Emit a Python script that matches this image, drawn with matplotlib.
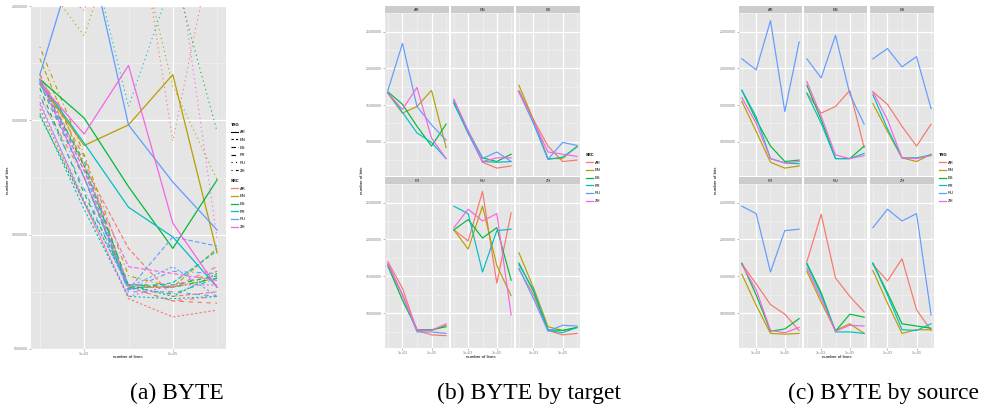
import math
import matplotlib
matplotlib.use("Agg")
import matplotlib.pyplot as plt
from matplotlib.lines import Line2D
from matplotlib.ticker import FixedLocator, NullFormatter, FuncFormatter

langs = ["AR", "EN", "ES", "FR", "RU", "ZH"]
n_lines = [1e2, 1e3, 1e4, 1e5, 1e6]

# number of bits (millions), one dict per source language, keyed by target
from_ar = {"EN": [15.5, 11.4, 7.2, 6.4, 6.7],
           "ES": [17.0, 13.0, 9.4, 7.3, 7.5],
           "FR": [17.0, 13.4, 7.7, 7.1, 7.0],
           "RU": [21.3, 19.8, 26.5, 14.1, 23.6],
           "ZH": [16.0, 12.5, 7.7, 7.1, 7.3]}
from_en = {"AR": [16.6, 13.9, 14.8, 17.0, 9.2],
           "ES": [17.7, 13.0, 7.7, 7.7, 9.4],
           "FR": [16.6, 12.5, 7.7, 7.7, 8.4],
           "RU": [21.3, 18.7, 24.5, 16.5, 12.4],
           "ZH": [18.2, 13.5, 8.2, 7.7, 8.1]}
from_es = {"AR": [16.8, 15.1, 12.1, 9.4, 12.4],
           "EN": [15.2, 11.4, 7.8, 7.3, 8.3],
           "FR": [16.4, 11.8, 7.8, 7.8, 8.2],
           "RU": [21.3, 22.7, 20.2, 21.6, 14.5],
           "ZH": [16.8, 13.0, 7.8, 7.7, 8.1]}
from_fr = {"AR": [16.7, 14.0, 11.2, 9.9, 7.7],
           "EN": [15.3, 11.1, 7.3, 7.2, 7.3],
           "ES": [16.8, 12.5, 7.6, 7.9, 9.3],
           "RU": [24.5, 23.5, 15.6, 21.2, 21.4],
           "ZH": [16.6, 13.2, 7.7, 7.4, 8.1]}
from_ru = {"AR": [17.0, 23.4, 14.8, 12.3, 10.2],
           "EN": [15.7, 11.5, 7.7, 8.6, 7.3],
           "ES": [16.8, 12.8, 7.6, 9.9, 9.5],
           "FR": [16.6, 12.5, 7.5, 7.5, 7.3],
           "ZH": [16.1, 12.0, 7.6, 8.4, 8.3]}
from_zh = {"AR": [16.6, 14.4, 17.4, 10.5, 7.7],
           "EN": [15.8, 11.4, 7.3, 7.8, 7.8],
           "ES": [16.8, 12.8, 8.6, 8.3, 8.0],
           "FR": [16.8, 12.5, 7.8, 7.7, 8.6],
           "RU": [21.6, 24.1, 22.5, 23.5, 9.8]}
bits = {"AR": from_ar, "EN": from_en, "ES": from_es,
        "FR": from_fr, "RU": from_ru, "ZH": from_zh}

colors = dict(zip(langs, ["#F8766D", "#B79F00", "#00BA38",
                          "#00BFC4", "#619CFF", "#F564E3"]))
ltypes = {"AR": "-", "EN": (0, (2, 2)), "ES": (0, (4, 2)),
          "FR": (0, (4, 4)), "RU": (0, (1, 3)), "ZH": (0, (1, 3, 4, 3))}

W, H = 984, 409
plt.rcParams["font.family"] = ["Liberation Sans", "DejaVu Sans"]
fig = plt.figure(figsize=(W / 100, H / 100), dpi=100)


def px_axes(x0, y0, x1, y1):
    return fig.add_axes([x0 / W, 1 - y1 / H, (x1 - x0) / W, (y1 - y0) / H])


def style(ax, ylim, yticks, left=True, bottom=True):
    ax.set_facecolor("#E5E5E5")
    for s in ax.spines.values():
        s.set_visible(False)
    ax.set_xscale("log")
    ax.set_xlim(10 ** 1.8, 10 ** 6.2)
    ax.set_ylim(*ylim)
    ax.xaxis.set_major_locator(FixedLocator([1e3, 1e5]))
    ax.xaxis.set_major_formatter(FuncFormatter(lambda v, p: "1e+0%d" % round(math.log10(v))))
    ax.xaxis.set_minor_locator(FixedLocator([1e2, 1e4, 1e6]))
    ax.xaxis.set_minor_formatter(NullFormatter())
    ax.yaxis.set_major_locator(FixedLocator(yticks))
    ax.yaxis.set_minor_locator(FixedLocator([t - 2.5e6 for t in yticks] + [yticks[-1] + 2.5e6]))
    ax.yaxis.set_major_formatter(FuncFormatter(lambda v, p: "%d" % round(v)))
    ax.grid(which="major", color="white", lw=0.9)
    ax.grid(which="minor", color="#F2F2F2", lw=0.45)
    ax.set_axisbelow(True)
    ax.tick_params(which="major", length=1.6, width=0.4, color="#7F7F7F",
                   labelsize=2.6, labelcolor="#7F7F7F", pad=0.8)
    ax.tick_params(which="minor", length=0)
    if not left:
        ax.tick_params(axis="y", which="major", length=0, labelleft=False)
    if not bottom:
        ax.tick_params(axis="x", which="major", length=0, labelbottom=False)


def legend(title, handles, x, y):
    fig.legend(handles, langs, loc="upper left",
               bbox_to_anchor=(x / W, 1 - y / H), frameon=False,
               fontsize=3, title=title, alignment="left",
               title_fontproperties={"weight": "bold", "size": 3},
               handlelength=1.6, handletextpad=0.5, labelspacing=0.88,
               borderpad=0, borderaxespad=0)


# (a) everything in one panel
ax = px_axes(31, 6, 226, 349)
style(ax, (5e6, 20e6), [5e6, 10e6, 15e6, 20e6])
for src in langs:
    for trg, vals in bits[src].items():
        ax.plot(n_lines, [v * 1e6 for v in vals], color=colors[src],
                ls=ltypes[trg], lw=0.9 if trg == "AR" else 0.8)
fig.text(8 / W, 1 - 180 / H, "number of bits", rotation=90, fontsize=3.2,
         ha="center", va="center")
fig.text(128 / W, 1 - 357 / H, "number of lines", fontsize=3.2,
         ha="center", va="center")
legend("TRG", [Line2D([], [], color="black", ls=ltypes[t], lw=0.8) for t in langs], 231, 122.5)
legend("SRC", [Line2D([], [], color=colors[s], lw=0.9) for s in langs], 231, 179)

# (b) by target and (c) by source
all_vals = [v for d in bits.values() for vals in d.values() for v in vals]
lo, hi = min(all_vals), max(all_vals)
pad = 0.05 * (hi - lo)
ylim = ((lo - pad) * 1e6, (hi + pad) * 1e6)
yt = [10e6, 15e6, 20e6, 25e6]
rows = [(6, 13.3, 175.5), (177, 184, 347.5)]
cols_b = [(385, 449), (451, 514), (516, 580)]
cols_c = [(739, 802), (804, 867), (870, 934)]

for cols, by_target, x_mid, x_ylab, x_leg, ltitle in [
        (cols_b, True, 481, 362, 586, "SRC"), (cols_c, False, 837, 716, 939, "TRG")]:
    for i, facet in enumerate(langs):
        r, c = divmod(i, 3)
        sy, py0, py1 = rows[r]
        x0, x1 = cols[c]
        sax = px_axes(x0, sy, x1, py0)
        sax.set_facecolor("#CCCCCC")
        sax.set_xticks([])
        sax.set_yticks([])
        for s in sax.spines.values():
            s.set_visible(False)
        sax.text(0.5, 0.5, facet, fontsize=2.8, color="#1A1A1A",
                 ha="center", va="center", transform=sax.transAxes)
        ax = px_axes(x0, py0, x1, py1)
        style(ax, ylim, yt, left=(c == 0), bottom=(r == 1))
        for other in langs:
            if by_target:
                vals = bits[other].get(facet)
            else:
                vals = bits[facet].get(other)
            if vals is None:
                continue
            ax.plot(n_lines, [v * 1e6 for v in vals], color=colors[other], lw=0.85)
    fig.text(x_ylab / W, 1 - 180 / H, "number of bits", rotation=90,
             fontsize=3.2, ha="center", va="center")
    fig.text(x_mid / W, 1 - 357 / H, "number of lines", fontsize=3.2,
             ha="center", va="center")
    legend(ltitle, [Line2D([], [], color=colors[s], lw=0.9) for s in langs], x_leg, 153)

for x, cap in [(177, "(a) BYTE"), (529, "(b) BYTE by target"), (883, "(c) BYTE by source")]:
    fig.text(x / W, 1 - 399 / H, cap, fontsize=17, family="Liberation Serif",
             ha="center", va="baseline")

fig.savefig("out.png", dpi=100)
